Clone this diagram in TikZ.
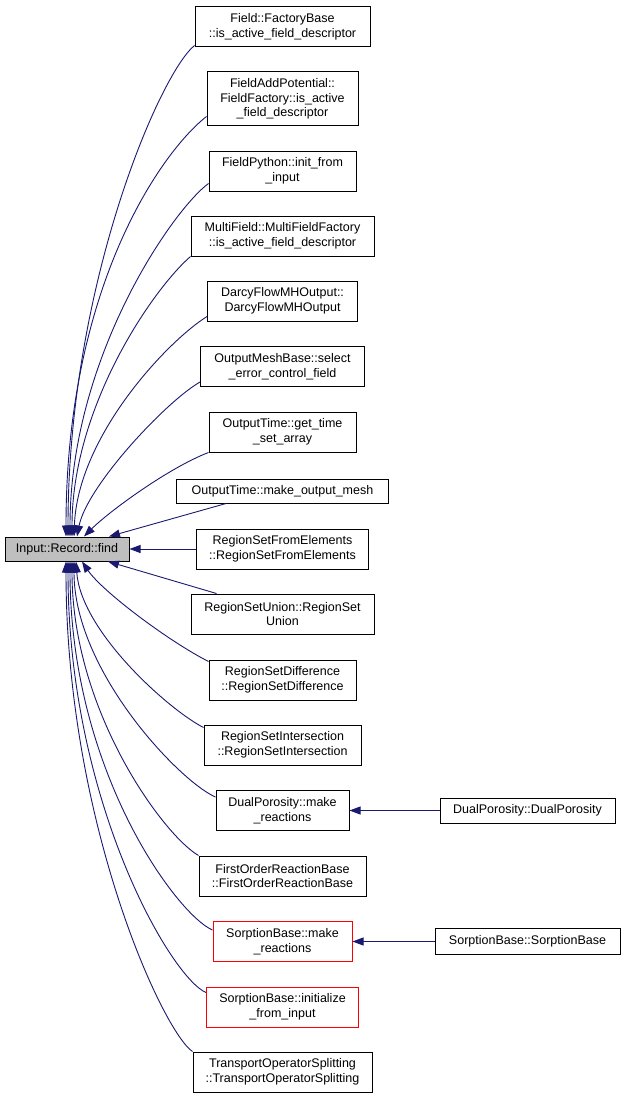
\documentclass[tikz,border=0pt]{standalone}
\usepackage{fontspec}
\setmainfont{Liberation Sans}
\usetikzlibrary{arrows.meta,positioning}
\definecolor{edgeblue}{HTML}{191970}
\definecolor{rootgray}{HTML}{BFBFBF}

\begin{document}
\begin{tikzpicture}[x=1pt,y=-1pt,->,>={Triangle[length=11pt,width=8pt]},
  every edge/.style={draw=edgeblue,line width=0.9pt},
  call node/.style={rectangle,draw=black,fill=white,line width=1pt,align=center,minimum height=40pt,inner sep=2pt,font=\fontsize{12.5}{14.5}\selectfont},
  root node/.style={call node,fill=rootgray,minimum height=24pt},
  red node/.style={call node,draw=red}]

\useasboundingbox (0,0) rectangle (625,1097);

\node[root node,minimum width=124pt] (0) at (67,549) {Input::Record::find};

\node[call node,minimum width=172pt] (9) [right of=0,node distance=215.5pt] {RegionSetFromElements\\::RegionSetFromElements};
\node[call node,minimum width=212pt,minimum height=24pt] (8) [above of=9,node distance=58pt] {OutputTime::make\_output\_mesh};
\node[call node,minimum width=147pt] (7) [above of=8,node distance=59pt] {OutputTime::get\_time\\\_set\_array};
\node[call node,minimum width=164pt] (6) [above of=7,node distance=65.5pt] {OutputMeshBase::select\\\_error\_control\_field};
\node[call node,minimum width=150pt] (5) [above of=6,node distance=65.5pt] {DarcyFlowMHOutput::\\DarcyFlowMHOutput};
\node[call node,minimum width=183pt] (4) [above of=5,node distance=65pt] {MultiField::MultiFieldFactory\\::is\_active\_field\_descriptor};
\node[call node,minimum width=147pt] (3) [above of=4,node distance=65pt] {FieldPython::init\_from\\\_input};
\node[call node,minimum width=151pt,minimum height=54pt] (2) [above of=3,node distance=72pt] {FieldAddPotential::\\FieldFactory::is\_active\\\_field\_descriptor};
\node[call node,minimum width=175pt] (1) [above of=2,node distance=72pt] {Field::FactoryBase\\::is\_active\_field\_descriptor};

\node[call node,minimum width=183pt] (10) [below of=9,node distance=65pt] {RegionSetUnion::RegionSet\\Union};
\node[call node,minimum width=147pt] (11) [below of=10,node distance=66pt] {RegionSetDifference\\::RegionSetDifference};
\node[call node,minimum width=157pt] (12) [below of=11,node distance=65pt] {RegionSetIntersection\\::RegionSetIntersection};
\node[call node,minimum width=133pt] (13) [below of=12,node distance=65.5pt] {DualPorosity::make\\\_reactions};
\node[call node,minimum width=167pt] (14) [below of=13,node distance=65.5pt] {FirstOrderReactionBase\\::FirstOrderReactionBase};
\node[red node,minimum width=139pt] (15) [below of=14,node distance=65.5pt] {SorptionBase::make\\\_reactions};
\node[red node,minimum width=152pt] (16) [below of=15,node distance=65.5pt] {SorptionBase::initialize\\\_from\_input};
\node[call node,minimum width=179pt] (17) [below of=16,node distance=65pt] {TransportOperatorSplitting\\::TransportOperatorSplitting};

\node[call node,minimum width=175pt,minimum height=25pt] (18) [right of=13,node distance=245pt] {DualPorosity::DualPorosity};
\node[call node,minimum width=185pt,minimum height=26pt] (19) [right of=15,node distance=245pt] {SorptionBase::SorptionBase};

%callers above
\path ([yshift=2pt]1.south west) edge[out=219,in=90,out distance=45pt,in distance=250pt] ([xshift=1pt]0.north);
\path ([yshift=10pt]2.south west) edge[out=218,in=90,out distance=57pt,in distance=250pt] ([xshift=-1pt]0.north);
\path ([yshift=8pt]3.south west) edge[out=216,in=90,out distance=43pt,in distance=180pt] ([xshift=3pt]0.north);
\path (4.south west) edge[out=221,in=90,out distance=50pt,in distance=130pt] ([xshift=5pt]0.north);
\path ([yshift=5pt]5.south west) edge[out=212,in=88,out distance=47pt,in distance=100pt] ([xshift=7pt]0.north);
\path ([yshift=5pt]6.south west) edge[out=210,in=79,out distance=40pt,in distance=51pt] ([xshift=10pt]0.north);
\path (7.south west) edge[out=201,in=45,out distance=43pt,in distance=35pt] ([xshift=17pt]0.north);
\path ([xshift=50pt]8.south west) edge ([xshift=42pt]0.north);

%horizontal
\path (9) edge (0);
\path (18) edge (13);
\path (19) edge (15);

%callers below
\path ([xshift=26pt]10.north west) edge ([xshift=41pt]0.south);
\path ([yshift=-2pt]11.north west) edge[out=153,in=304,out distance=45pt,in distance=36pt] ([xshift=15pt]0.south);
\path ([yshift=-3pt]12.north west) edge[out=153,in=274,out distance=39pt,in distance=70pt] ([xshift=9pt]0.south);
\path ([yshift=-7pt]13.north west) edge[out=157,in=270,out distance=38pt,in distance=110pt] ([xshift=7pt]0.south);
\path (14.north west) edge[out=150,in=270,out distance=40pt,in distance=150pt] ([xshift=5pt]0.south);
\path ([yshift=-9pt]15.north west) edge[out=157,in=270,out distance=38pt,in distance=210pt] ([xshift=3pt]0.south);
\path ([yshift=-6pt]16.north west) edge[out=157,in=270,out distance=38pt,in distance=240pt] ([xshift=1pt]0.south);
\path (17.north west) edge[out=146,in=270,out distance=36pt,in distance=260pt] ([xshift=-1pt]0.south);

\end{tikzpicture}
\end{document}
